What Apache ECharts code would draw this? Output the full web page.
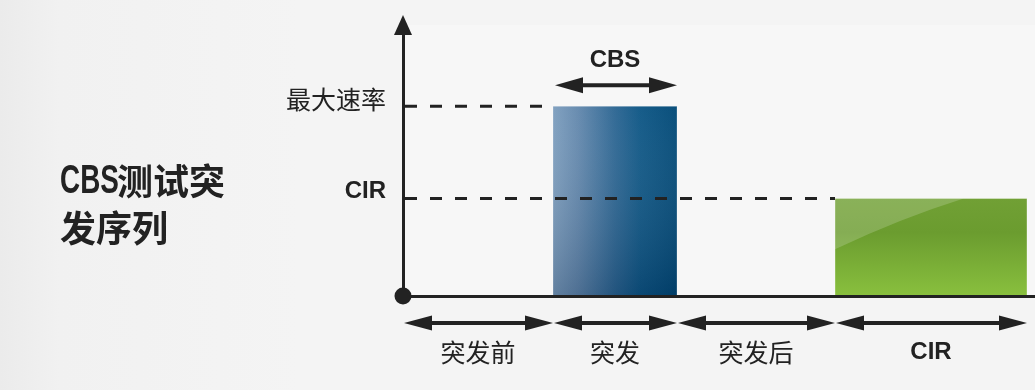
<!DOCTYPE html>
<html><head><meta charset="utf-8">
<script src="https://cdn.jsdelivr.net/npm/echarts@6/dist/echarts.min.js"></script>
<style>
html,body{margin:0;padding:0;}
body{background:linear-gradient(90deg,#ebebeb 0px,#f1f1f1 60px,#f4f4f4 300px,#f4f4f4 100%);}
#c{width:1035px;height:390px;}
</style></head><body><div id="c"></div>
<script>
// ---- data ----
const segmentNames = ['突发前', '突发', '突发后', 'CIR'];
const segmentBounds = [0, 15, 27.4, 43.2, 62.4];
const xMax = 63.2;
const yMax = 100;
const rateNames = ['最大速率', 'CIR'];
const rateValues = [70, 36];
const barSegments = [1, 3];     // bar 0: burst (突发), bar 1: CIR
const barRates = [70, 36];
const cbsLabel = 'CBS';
const titleParts = ['CBS', '测试突', '发序列'];

// ---- helpers ----
const INK = '#222222';
const CJK = "'Noto Sans CJK SC', sans-serif";
const LAT = "'Liberation Sans', Arial, sans-serif";
function isLatin(s) { return /^[A-Za-z ]+$/.test(s); }
function dblArrow(x0, x1, y, head, half, shaft) {
  return [
    {type: 'rect', shape: {x: x0 + head - 2, y: y - shaft / 2, width: x1 - x0 - 2 * head + 4, height: shaft}, style: {fill: INK}},
    {type: 'polygon', shape: {points: [[x0, y], [x0 + head, y - half], [x0 + head, y + half]]}, style: {fill: INK}},
    {type: 'polygon', shape: {points: [[x1, y], [x1 - head, y - half], [x1 - head, y + half]]}, style: {fill: INK}}
  ];
}
function labelText(txt, x, y, align) {
  const lat = isLatin(txt);
  return {type: 'text', style: {
    text: txt, x: x, y: y, align: align, verticalAlign: 'middle',
    fontSize: lat ? 24 : 25, fontWeight: lat ? 'bold' : 'normal',
    fontFamily: lat ? LAT : CJK, fill: INK
  }};
}

const chart = echarts.init(document.getElementById('c'), null, {renderer: 'canvas'});

const barData = barSegments.map((s, i) => [segmentBounds[s], segmentBounds[s + 1], barRates[i]]);
const dashData = rateValues.map((v, i) => [segmentBounds[barSegments[i]], v]);
const segData = segmentNames.map((n, i) => [segmentBounds[i], segmentBounds[i + 1]]);

const titleStyle = {fontSize: 36, fontWeight: 'bold', fontFamily: CJK, fill: INK, verticalAlign: 'middle', align: 'left'};

const option = {
  backgroundColor: 'transparent',
  animation: false,
  graphic: [{
    type: 'group', x: 60, y: 181, silent: true,
    children: [
      {type: 'text', x: 0, y: 1, scaleX: 0.68,
        style: Object.assign({}, titleStyle, {text: titleParts[0], fontSize: 41, fontFamily: LAT})},
      {type: 'text', x: 57, y: 0, style: Object.assign({}, titleStyle, {text: titleParts[1]})},
      {type: 'text', x: 0, y: 47, style: Object.assign({}, titleStyle, {text: titleParts[2]})}
    ]
  }],
  grid: {left: 403, right: 0, top: 25, bottom: 94, show: true, backgroundColor: '#f7f7f7', borderWidth: 0},
  xAxis: {
    type: 'value', min: 0, max: xMax, z: 10,
    axisLine: {show: true, lineStyle: {color: INK, width: 3}},
    axisTick: {show: false}, axisLabel: {show: false}, splitLine: {show: false}
  },
  yAxis: {
    type: 'value', min: 0, max: yMax, z: 10,
    axisLine: {show: true, symbol: ['none', 'triangle'], symbolSize: [18, 20], lineStyle: {color: INK, width: 3}},
    axisTick: {show: false}, axisLabel: {show: false}, splitLine: {show: false}
  },
  series: [
    { // burst bar (blue)
      type: 'custom', z: 2,
      data: [barData[0]],
      renderItem: function (params, api) {
        const tl = api.coord([api.value(0), api.value(2)]);
        const br = api.coord([api.value(1), 0]);
        const w = br[0] - tl[0], h = br[1] - tl[1];
        return {type: 'group', children: [
          {type: 'rect', shape: {x: tl[0], y: tl[1], width: w, height: h},
            style: {fill: new echarts.graphic.LinearGradient(0, 0, 1, 0, [
              {offset: 0, color: '#7d9ebe'}, {offset: 0.2, color: '#6388ad'},
              {offset: 0.5, color: '#2b6592'}, {offset: 0.7, color: '#0d5685'},
              {offset: 1, color: '#004876'}])}},
          {type: 'rect', shape: {x: tl[0], y: tl[1], width: w, height: h},
            style: {fill: new echarts.graphic.LinearGradient(0, 0, 0, 1, [
              {offset: 0, color: 'rgba(255,255,255,0.04)'}, {offset: 1, color: 'rgba(0,20,50,0.22)'}]),
              stroke: 'rgba(255,255,255,0.25)', lineWidth: 1}}
        ]};
      }
    },
    { // CIR bar (green)
      type: 'custom', z: 2,
      data: [barData[1]],
      renderItem: function (params, api) {
        const tl = api.coord([api.value(0), api.value(2)]);
        const br = api.coord([api.value(1), 0]);
        const w = br[0] - tl[0], h = br[1] - tl[1];
        return {type: 'group', children: [
          {type: 'rect', shape: {x: tl[0], y: tl[1], width: w, height: h},
            style: {fill: new echarts.graphic.LinearGradient(0, 0, 0, 1, [
              {offset: 0, color: '#71a035'}, {offset: 0.35, color: '#6b9c2f'},
              {offset: 1, color: '#89c03e'}]),
              stroke: 'rgba(255,255,255,0.35)', lineWidth: 1}},
          {type: 'path', shape: {pathData:
            'M' + tl[0] + ' ' + tl[1] + ' L' + tl[0] + ' ' + (tl[1] + 0.52 * h) +
            ' Q' + (tl[0] + 0.345 * w) + ' ' + (tl[1] + 0.2 * h) + ' ' + (tl[0] + 0.67 * w) + ' ' + tl[1] + ' Z'},
            style: {fill: 'rgba(255,255,255,0.18)'}}
        ]};
      }
    },
    { // dashed rate lines + their labels
      type: 'custom', z: 4,
      data: dashData,
      renderItem: function (params, api) {
        const p0 = api.coord([0, api.value(1)]);
        const p1 = api.coord([api.value(0), api.value(1)]);
        const name = rateNames[params.dataIndex];
        return {type: 'group', children: [
          {type: 'line', shape: {x1: p0[0] + 2, y1: p0[1], x2: p1[0], y2: p1[1]},
            style: {stroke: INK, lineWidth: 3, lineDash: [12, 13]}},
          labelText(name, p0[0] - 17, p0[1] - 7, 'right')
        ]};
      }
    },
    { // CBS arrow over burst bar
      type: 'custom', z: 4,
      data: [barData[0]],
      renderItem: function (params, api) {
        const a = api.coord([api.value(0), api.value(2)]);
        const b = api.coord([api.value(1), api.value(2)]);
        const y = a[1] - 21;
        return {type: 'group', children:
          dblArrow(a[0] + 2, b[0], y, 28, 8, 4).concat([labelText(cbsLabel, (a[0] + b[0]) / 2, y - 25, 'center')])
        };
      }
    },
    { // time segments below the axis
      type: 'custom', z: 4,
      data: segData,
      renderItem: function (params, api) {
        const a = api.coord([api.value(0), 0]);
        const b = api.coord([api.value(1), 0]);
        const y = a[1] + 27;
        return {type: 'group', children:
          dblArrow(a[0] + 1, b[0], y, 28, 7.5, 4).concat([labelText(segmentNames[params.dataIndex], (a[0] + b[0]) / 2, y + 29, 'center')])
        };
      }
    },
    { // origin dot
      type: 'scatter', z: 11, clip: false, silent: true,
      data: [[0, 0]], symbolSize: 17, itemStyle: {color: INK, opacity: 1}
    }
  ]
};
chart.setOption(option);
</script></body></html>
